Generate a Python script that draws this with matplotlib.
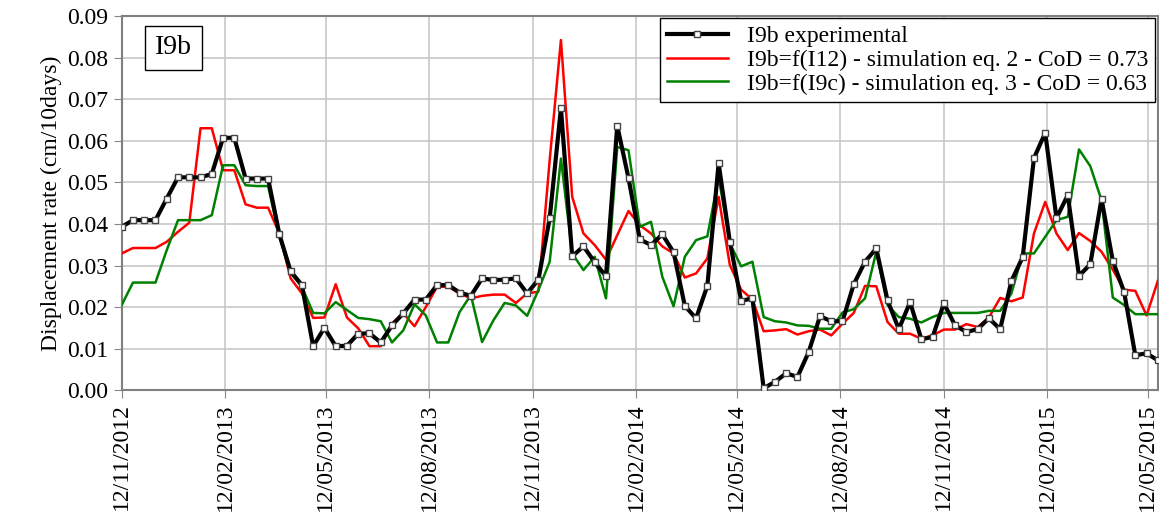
import matplotlib
matplotlib.use('Agg')
import matplotlib.pyplot as plt
import matplotlib.dates as mdates
import numpy as np
import pandas as pd

plt.rcParams['font.family'] = ['Liberation Serif', 'DejaVu Serif']

# 10-day sampling starting 12/11/2012
experimental = [0.0393, 0.0409, 0.0409, 0.0409, 0.0461, 0.0512, 0.0512, 0.0512, 0.052, 0.0607,
                0.0607, 0.0509, 0.0509, 0.0509, 0.0375, 0.0286, 0.0253, 0.0106, 0.015, 0.0106,
                0.0107, 0.0136, 0.0137, 0.0115, 0.0156, 0.0185, 0.0218, 0.0218, 0.0253, 0.0253,
                0.0235, 0.0227,
                0.0269, 0.0265, 0.0266, 0.0269, 0.0233, 0.0266, 0.0413, 0.0678, 0.0322, 0.0346,
                0.0308, 0.0274, 0.0636, 0.051, 0.0363, 0.0349, 0.0375, 0.0332, 0.0203, 0.0173,
                0.0251, 0.0546, 0.0357, 0.0215, 0.0221, 0.0005, 0.002, 0.0041, 0.0032, 0.0092,
                0.0178,
                0.0166, 0.0166, 0.0255, 0.0309, 0.0341, 0.0216, 0.0147, 0.0212, 0.0123, 0.0128,
                0.0209, 0.0156, 0.014, 0.0147, 0.0173, 0.0147, 0.0263, 0.032, 0.0558, 0.0619,
                0.0414, 0.0469, 0.0275, 0.0303, 0.046, 0.0311, 0.0237, 0.0084, 0.0089, 0.0072]

sim_i12 = [0.0329, 0.0342, 0.0342, 0.0342, 0.0357, 0.0381, 0.0403, 0.063, 0.063, 0.0529,
           0.0529, 0.0447, 0.0439, 0.0439, 0.0377, 0.0269, 0.0233, 0.0174, 0.0175, 0.0255,
           0.0175, 0.0149, 0.0106, 0.0106, 0.0161, 0.0185, 0.0154, 0.02, 0.0249, 0.0249,
           0.0233, 0.0221,
           0.0227, 0.023, 0.023, 0.021, 0.0233, 0.0237, 0.0553, 0.0842, 0.0465, 0.0377,
           0.0349, 0.0314, 0.0373, 0.0431, 0.0397, 0.0377, 0.0346, 0.0329, 0.0271, 0.0281,
           0.0317, 0.0465, 0.0301, 0.0242, 0.0218, 0.0142, 0.0144, 0.0147, 0.0134, 0.0142,
           0.0146,
           0.0132, 0.016, 0.0186, 0.0251, 0.025, 0.0164, 0.0136, 0.0136, 0.0124, 0.0132,
           0.0146, 0.0146, 0.0159, 0.0152, 0.0175, 0.0222, 0.0214, 0.0223, 0.0377, 0.0453,
           0.0377, 0.0337, 0.0378, 0.0359, 0.0333, 0.029, 0.0242, 0.0239, 0.018, 0.0263]

sim_i9c = [0.0205, 0.0259, 0.0259, 0.0259, 0.0337, 0.0409, 0.0409, 0.0409, 0.0421, 0.0541,
           0.0541, 0.0493, 0.0491, 0.0491, 0.0369, 0.0282, 0.0249, 0.0186, 0.0185, 0.0212,
           0.0193, 0.0174, 0.0171, 0.0166, 0.0115, 0.0144, 0.0207, 0.018, 0.0115, 0.0115,
           0.0188, 0.0229,
           0.0116, 0.0168, 0.021, 0.0204, 0.0179, 0.0241, 0.0309, 0.0557, 0.0329, 0.0289,
           0.0321, 0.0221, 0.0585, 0.0577, 0.0393, 0.0405, 0.0273, 0.0202, 0.0321, 0.0361,
           0.037, 0.0513, 0.0353, 0.0298, 0.0309, 0.0176, 0.0166, 0.0163, 0.0156, 0.0155,
           0.0148,
           0.0148, 0.0187, 0.0195, 0.0221, 0.0333, 0.0205, 0.0176, 0.0172, 0.0163, 0.0176,
           0.0186, 0.0186, 0.0186, 0.0186, 0.0191, 0.0191, 0.0233, 0.0329, 0.0329, 0.0369,
           0.0409, 0.0417, 0.0579, 0.0539, 0.0457, 0.0223, 0.0205, 0.0183, 0.0183, 0.0183]

dates = pd.date_range('2012-11-12', periods=len(experimental), freq='10D')
tick_dates = pd.date_range('2012-11-01', '2015-05-01', freq='3MS') + pd.Timedelta(days=11)

fig = plt.figure(figsize=(11.59, 5.31), dpi=100)
ax = fig.add_axes([0.105, 0.265, 0.894, 0.705])

ax.plot(dates, experimental, color='black', lw=3, marker='s', ms=5, mfc='white',
        mec='#444444', mew=1, label='I9b experimental', zorder=4)
ax.plot(dates, sim_i12, color='#ff0000', lw=1.8, label='I9b=f(I12) - simulation eq. 2 - CoD = 0.73', zorder=3)
ax.plot(dates, sim_i9c, color='#008000', lw=1.8, label='I9b=f(I9c) - simulation eq. 3 - CoD = 0.63', zorder=3)

ax.set_xlim(dates[0], dates[-1])
ax.set_ylim(0, 0.09)
ax.set_yticks(np.arange(0, 0.091, 0.01))
ax.yaxis.set_major_formatter(plt.FormatStrFormatter('%.2f'))
ax.set_xticks(tick_dates)
ax.xaxis.set_major_formatter(mdates.DateFormatter('%d/%m/%Y'))
plt.setp(ax.get_xticklabels(), rotation=90)
ax.tick_params(labelsize=17, color='#888888', length=6)
ax.set_ylabel('Displacement rate (cm/10days)', fontsize=17)
ax.grid(True, color='#c8c8c8', lw=1.2)
ax.set_axisbelow(True)
for s in ax.spines.values():
    s.set_color('#808080')
    s.set_linewidth(1.5)

ax.text(0.032, 0.915, 'I9b', transform=ax.transAxes, fontsize=20, va='center',
        bbox=dict(boxstyle='square,pad=0.35', fc='white', ec='black', lw=1))

leg = ax.legend(loc='upper right', fontsize=17, fancybox=False, framealpha=1,
                edgecolor='black', borderpad=0.3, labelspacing=0.1, handlelength=2.6,
                borderaxespad=0.1)
leg.get_frame().set_linewidth(1)

fig.savefig('out.png', dpi=100)
